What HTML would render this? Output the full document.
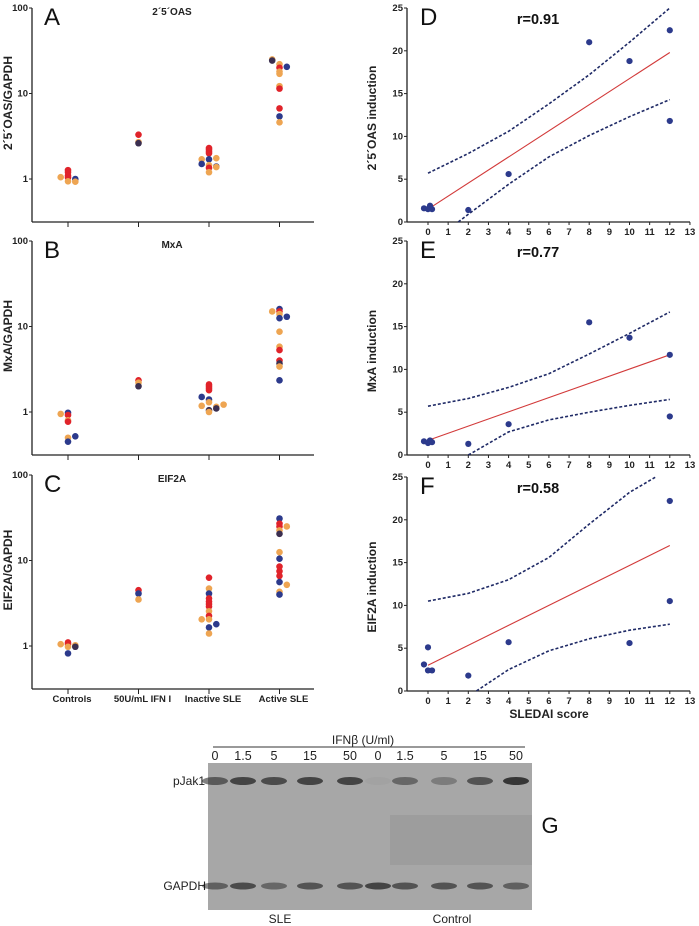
<!DOCTYPE html>
<html><head><meta charset="utf-8"><style>
html,body{margin:0;padding:0;background:#fff;width:699px;height:926px;overflow:hidden}
svg{display:block;font-family:"Liberation Sans",Arial,sans-serif}
</style></head><body>
<svg id="fig" width="699" height="926" viewBox="0 0 699 926">
 <g id="blot">
  <rect x="208" y="763" width="324" height="147" fill="#a7a7a7"/>
  <rect x="390" y="815" width="142" height="50" fill="#9b9b9b" opacity="0.8"/>
  <line x1="213" y1="747" x2="525" y2="747" stroke="#333" stroke-width="1"/>
  <text x="363" y="744" font-size="12" text-anchor="middle" fill="#222">IFNβ (U/ml)</text>
  <text x="205" y="785" font-size="12" text-anchor="end" fill="#222">pJak1</text>
  <text x="206" y="890" font-size="12" text-anchor="end" fill="#222">GAPDH</text>
  <text x="280" y="923" font-size="12" text-anchor="middle" fill="#222">SLE</text>
  <text x="452" y="923" font-size="12" text-anchor="middle" fill="#222">Control</text>
  <text x="550" y="833" font-size="22" text-anchor="middle" fill="#111">G</text>
 </g>
</svg>
<script>
var NS="http://www.w3.org/2000/svg";
var svg=document.getElementById('fig');
var blotG=document.getElementById('blot');
function mk(tag,attrs,parent){var e=document.createElementNS(NS,tag);for(var k in attrs)e.setAttribute(k,attrs[k]);(parent||svg).appendChild(e);return e;}
var COL={r:"#e0232a",o:"#eea552",b:"#2c3a8c",d:"#3b2f50"};

// ---------- left panels data: [category, jitter, value, color]
var categories=["Controls","50U/mL IFN I","Inactive SLE","Active SLE"];
var oasValues=[[0,-1,1.05,'o'],[0,0,1.27,'r'],[0,0,1.2,'r'],[0,0,1.1,'r'],[0,0,1.04,'r'],[0,0,0.94,'o'],[0,1,1.0,'b'],[0,1,0.93,'o'],
 [1,0,3.3,'r'],[1,0,2.7,'o'],[1,0,2.62,'d'],
 [2,0,2.3,'r'],[2,0,2.2,'r'],[2,0,2.1,'r'],[2,0,2.0,'r'],[2,0,1.7,'b'],[2,-1,1.7,'o'],[2,1,1.75,'o'],[2,-1,1.5,'b'],[2,0,1.45,'o'],[2,0,1.35,'r'],[2,1,1.4,'b'],[2,1,1.38,'o'],[2,0,1.2,'o'],
 [3,-1,25,'o'],[3,-1,24.3,'d'],[3,0,22,'o'],[3,0,20,'r'],[3,1,20.5,'b'],[3,0,18,'o'],[3,0,17,'o'],[3,0,12.2,'o'],[3,0,11.4,'r'],[3,0,6.7,'r'],[3,0,5.4,'b'],[3,0,4.6,'o']];
var mxaValues=[[0,-1,0.95,'o'],[0,0,0.98,'b'],[0,0,0.92,'r'],[0,0,0.8,'o'],[0,0,0.77,'r'],[0,0,0.5,'o'],[0,0,0.45,'b'],[0,1,0.52,'b'],
 [1,0,2.35,'r'],[1,0,2.2,'o'],[1,0,2.0,'d'],
 [2,0,2.1,'r'],[2,0,2.0,'r'],[2,0,1.9,'r'],[2,0,1.8,'r'],[2,-1,1.5,'b'],[2,0,1.4,'b'],[2,0,1.3,'o'],[2,-1,1.18,'o'],[2,1,1.15,'o'],[2,1,1.1,'d'],[2,2,1.22,'o'],[2,0,1.05,'d'],[2,0,1.0,'o'],
 [3,-1,15,'o'],[3,0,16,'b'],[3,0,15,'r'],[3,0,14,'o'],[3,0,12.5,'b'],[3,1,13,'b'],[3,0,8.7,'o'],[3,0,5.8,'o'],[3,0,5.3,'r'],[3,0,4.0,'r'],[3,0,3.7,'d'],[3,0,3.4,'o'],[3,0,2.35,'b']];
var eifValues=[[0,-1,1.05,'o'],[0,0,1.1,'r'],[0,0,1.05,'r'],[0,0,0.98,'o'],[0,0,0.82,'b'],[0,1,1.02,'o'],[0,1,0.98,'d'],
 [1,0,4.5,'r'],[1,0,4.1,'b'],[1,0,3.5,'o'],
 [2,0,6.3,'r'],[2,0,4.7,'o'],[2,0,4.1,'b'],[2,0,3.6,'r'],[2,0,3.3,'r'],[2,0,3.1,'r'],[2,0,2.9,'r'],[2,0,2.55,'o'],[2,0,2.25,'r'],[2,0,2.05,'o'],[2,-1,2.05,'o'],[2,0,1.65,'b'],[2,1,1.8,'b'],[2,0,1.4,'o'],
 [3,0,31,'b'],[3,0,27,'r'],[3,0,25,'r'],[3,1,25,'o'],[3,0,22.5,'o'],[3,0,20.5,'d'],[3,0,12.5,'o'],[3,0,10.5,'b'],[3,0,8.5,'r'],[3,0,7.5,'r'],[3,0,6.6,'r'],[3,0,5.6,'b'],[3,1,5.2,'o'],[3,0,4.3,'o'],[3,0,4.0,'b']];
var logTicks=[1,10,100];

function leftPanel(name,letter,title,ylab,top,vals,showCats){
  var g=mk('g',{});
  
  
  var y100=top, dec=85.5, bottom=top+214, x0=32, x1=314;
  function ys(v){return y100+(2-Math.log10(v))*dec;}
  function xs(c){return 68+c*70.5;}
  mk('line',{x1:x0,y1:top,x2:x0,y2:bottom,stroke:'#222','stroke-width':1.3},g);
  mk('line',{x1:x0,y1:bottom,x2:x1,y2:bottom,stroke:'#222','stroke-width':1.3},g);
  logTicks.forEach(function(t){
    mk('line',{x1:x0-3,y1:ys(t),x2:x0,y2:ys(t),stroke:'#222','stroke-width':1},g);
    var tx=mk('text',{x:x0-4,y:ys(t)+3,'font-size':9.5,'font-weight':'bold','text-anchor':'end',fill:'#222'},g);
    tx.textContent=t;
    
    
  });
  categories.forEach(function(c,i){
    mk('line',{x1:xs(i),y1:bottom,x2:xs(i),y2:bottom+5,stroke:'#222','stroke-width':1},g);
    if(showCats){
      var tx=mk('text',{x:xs(i)+4,y:bottom+13,'font-size':9.5,'font-weight':'bold','text-anchor':'middle',fill:'#222'},g);
      tx.textContent=c;
      
      
    }
  });
  var L=mk('text',{x:44,y:top+17,'font-size':24,fill:'#111'},g);L.textContent=letter;
  
  
  var T=mk('text',{x:172,y:top+7,'font-size':10,'font-weight':'bold','text-anchor':'middle',fill:'#222'},g);T.textContent=title;
  
  
  var cy=top+95;
  var Y=mk('text',{x:12,y:cy,'font-size':12,'font-weight':'bold','text-anchor':'middle',fill:'#222',transform:'rotate(-90 12 '+cy+')'},g);Y.textContent=ylab;
  
  
  vals.forEach(function(p){
    var c=mk('circle',{cx:xs(p[0])+p[1]*7.3,cy:ys(p[2]),r:3.3,fill:COL[p[3]]},g);
    
    
  });
}
leftPanel('oas','A','2´5´OAS','2´5´OAS/GAPDH',8,oasValues,false);
leftPanel('mxa','B','MxA','MxA/GAPDH',241,mxaValues,false);
leftPanel('eif2a','C','EIF2A','EIF2A/GAPDH',475,eifValues,true);

// ---------- right panels data
var sledaiTicks=[0,1,2,3,4,5,6,7,8,9,10,11,12,13];
var inductionTicks=[0,5,10,15,20,25];
var dX=[-0.2,0,0.1,0.2,2,4,8,10,12,12];
var dY=[1.6,1.5,1.9,1.5,1.4,5.6,21,18.8,22.4,11.8];
var dFitX=[0,12], dFitY=[1.5,19.8];
var dUpX=[0,2,4,6,8,10,12], dUpY=[5.7,8.0,10.6,13.8,17.2,21.0,25.0];
var dLoX=[1.5,2,4,6,8,10,12], dLoY=[0,0.9,4.4,7.6,10.1,12.3,14.3];
var eX=[-0.2,0,0.1,0.2,2,4,8,10,12,12];
var eY=[1.6,1.4,1.7,1.5,1.3,3.6,15.5,13.7,11.7,4.5];
var eFitX=[0,12], eFitY=[1.7,11.7];
var eUpX=[0,2,4,6,8,10,12], eUpY=[5.7,6.6,7.9,9.5,11.8,14.2,16.7];
var eLoX=[2,4,6,8,10,12], eLoY=[0,2.7,4.1,5.0,5.8,6.5];
var fX=[-0.2,0,0,0.2,2,4,10,12,12];
var fY=[3.1,5.1,2.4,2.4,1.8,5.7,5.6,22.2,10.5];
var fFitX=[0,12], fFitY=[3.0,17.0];
var fUpX=[0,2,4,6,8,10,11.3], fUpY=[10.5,11.4,13.0,15.6,19.5,23.2,25.0];
var fLoX=[2.4,4,6,8,10,12], fLoY=[0,2.5,4.7,6.1,7.1,7.8];

function rightPanel(name,letter,rtxt,ylab,top,X,Y,fx,fy,ux,uy,lx,ly,showX){
  var g=mk('g',{});
  
  
  var bottom=top+214, x0=407, x1=690;
  function xs(v){return 428+v*20.15;}
  function ys(v){return bottom-v*(214/25);}
  mk('line',{x1:x0,y1:top,x2:x0,y2:bottom,stroke:'#222','stroke-width':1.3},g);
  mk('line',{x1:x0,y1:bottom,x2:x1,y2:bottom,stroke:'#222','stroke-width':1.3},g);
  inductionTicks.forEach(function(t){
    mk('line',{x1:x0-3,y1:ys(t),x2:x0,y2:ys(t),stroke:'#222','stroke-width':1},g);
    var tx=mk('text',{x:x0-4,y:ys(t)+3,'font-size':9.5,'font-weight':'bold','text-anchor':'end',fill:'#222'},g);
    tx.textContent=t;
    
    
  });
  sledaiTicks.forEach(function(t){
    mk('line',{x1:xs(t),y1:bottom,x2:xs(t),y2:bottom+3,stroke:'#222','stroke-width':1},g);
    var tx=mk('text',{x:xs(t),y:bottom+13,'font-size':9.5,'font-weight':'bold','text-anchor':'middle',fill:'#222'},g);
    tx.textContent=t;
    
    
  });
  var L=mk('text',{x:420,y:top+17,'font-size':24,fill:'#111'},g);L.textContent=letter;
  
  
  var R=mk('text',{x:538,y:top+16,'font-size':14.5,'font-weight':'bold','text-anchor':'middle',fill:'#111'},g);R.textContent=rtxt;
  
  
  var cy=top+110;
  var YL=mk('text',{x:376,y:cy,'font-size':12,'font-weight':'bold','text-anchor':'middle',fill:'#222',transform:'rotate(-90 376 '+cy+')'},g);YL.textContent=ylab;
  
  
  function path(ax,ay){return ax.map(function(v,i){return (i?'L':'M')+xs(v).toFixed(1)+' '+ys(ay[i]).toFixed(1);}).join(' ');}
  var up=mk('path',{d:path(ux,uy),fill:'none',stroke:'#1f2a66','stroke-width':1.6,'stroke-dasharray':'3,2'},g);
  
  
  var lo=mk('path',{d:path(lx,ly),fill:'none',stroke:'#1f2a66','stroke-width':1.6,'stroke-dasharray':'3,2'},g);
  
  
  var fit=mk('path',{d:path(fx,fy),fill:'none',stroke:'#d23a3a','stroke-width':1.1},g);
  
  
  X.forEach(function(v,i){
    var c=mk('circle',{cx:xs(v),cy:ys(Y[i]),r:3.1,fill:'#2c3a8c'},g);
    
    
  });
  if(showX){
    var xt=mk('text',{x:549,y:bottom+27,'font-size':12,'font-weight':'bold','text-anchor':'middle',fill:'#222'},g);xt.textContent='SLEDAI score';
    
    
  }
}
rightPanel('oas-correlation','D','r=0.91','2´5´OAS induction',8,dX,dY,dFitX,dFitY,dUpX,dUpY,dLoX,dLoY,false);
rightPanel('mxa-correlation','E','r=0.77','MxA induction',241,eX,eY,eFitX,eFitY,eUpX,eUpY,eLoX,eLoY,false);
rightPanel('eif2a-correlation','F','r=0.58','EIF2A induction',477,fX,fY,fFitX,fFitY,fUpX,fUpY,fLoX,fLoY,true);

// ---------- blot
var doses=["0","1.5","5","15","50","0","1.5","5","15","50"];
var pjakIntensity=[0.55,0.7,0.65,0.7,0.7,0.03,0.45,0.3,0.6,0.8];
var gapdhIntensity=[0.5,0.65,0.45,0.6,0.6,0.7,0.6,0.6,0.6,0.5];
var laneX=[215,243,274,310,350,378,405,444,480,516];
doses.forEach(function(d,i){
  var t=mk('text',{x:laneX[i],y:760,'font-size':12.5,'text-anchor':'middle',fill:'#222'},blotG);
  t.textContent=d;
  
  
  var b=mk('ellipse',{cx:laneX[i],cy:781,rx:13,ry:4,fill:'#1a1a1a',opacity:pjakIntensity[i]},blotG);
  
  
  var b2=mk('ellipse',{cx:laneX[i],cy:886,rx:13,ry:3.5,fill:'#1a1a1a',opacity:gapdhIntensity[i]},blotG);
  
  
});
</script>
</body></html>
